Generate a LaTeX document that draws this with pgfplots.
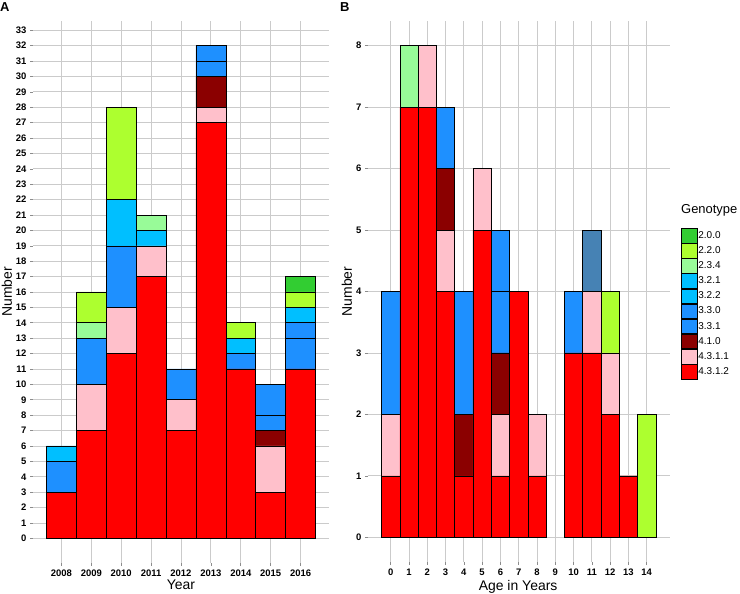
\documentclass[border=0pt]{standalone}
\usepackage{fontspec}
\setmainfont{Liberation Sans}
\usepackage{pgfplots}
\usepackage{pgfplotstable}
\pgfplotsset{compat=1.18}
\definecolor{c200}{HTML}{32CD32}
\definecolor{c220}{HTML}{ADFF2F}
\definecolor{c234}{HTML}{98FB98}
\definecolor{c32}{HTML}{00BFFF}
\definecolor{c33}{HTML}{1E90FF}
\definecolor{c410}{HTML}{8B0000}
\definecolor{c4311}{HTML}{FFC0CB}
\definecolor{c4312}{HTML}{FF0000}
\definecolor{steel}{HTML}{4682B4}
\definecolor{gridc}{HTML}{CBCBCB}

% columns: 4.3.1.2, 4.3.1.1, 4.1.0, 3.3.1, 3.3.0, 3.2.2, 3.2.1, 2.3.4, 2.2.0, 2.0.0
\pgfplotstableread{
yr   r  p  dr bA bB sA sB pg gy g
2008 3  0  0  2  0  1  0  0  0  0
2009 7  3  0  3  0  0  0  1  2  0
2010 12 3  0  4  0  3  0  0  6  0
2011 17 2  0  0  0  1  0  1  0  0
2012 7  2  0  2  0  0  0  0  0  0
2013 27 1  2  1  1  0  0  0  0  0
2014 11 0  0  1  0  1  0  0  1  0
2015 3  3  1  1  2  0  0  0  0  0
2016 11 0  0  2  1  1  0  0  1  1
}\tblA

\pgfplotstableread{
age r p dr bA bB sA sB pg gy g st
0   1 1 0  2  0  0  0  0  0  0 0
1   7 0 0  0  0  0  0  1  0  0 0
2   7 1 0  0  0  0  0  0  0  0 0
3   4 1 1  1  0  0  0  0  0  0 0
4   1 0 1  2  0  0  0  0  0  0 0
5   5 1 0  0  0  0  0  0  0  0 0
6   1 1 1  1  1  0  0  0  0  0 0
7   4 0 0  0  0  0  0  0  0  0 0
8   1 1 0  0  0  0  0  0  0  0 0
9   0 0 0  0  0  0  0  0  0  0 0
10  3 0 0  1  0  0  0  0  0  0 0
11  3 1 0  0  0  0  0  0  0  0 1
12  2 1 0  0  0  0  0  0  1  0 0
13  1 0 0  0  0  0  0  0  0  0 0
14  0 0 0  0  0  0  0  0  2  0 0
}\tblB

\pgfplotsset{
  panel/.style={
    scale only axis,
    anchor=south west,
    ybar stacked,
    bar width=1,
    axis line style={draw=none},
    grid=major,
    major grid style={draw=gridc, line width=0.9pt},
    tick pos=left,
    tick align=outside,
    major tick length=3bp,
    tick style={draw=black!45, line width=0.6pt},
    /pgf/number format/assume math mode=true,
    /pgf/number format/1000 sep={},
    ticklabel style={font=\fontsize{9.5}{10}\selectfont\bfseries},
    every axis plot/.append style={draw=black, line width=0.6pt},
  }
}

\begin{document}
\begin{tikzpicture}
\useasboundingbox (0,0) rectangle (740bp,594bp);

\begin{axis}[panel,
  at={(33bp,31bp)}, width=296bp, height=542bp,
  xmin=2007.05, xmax=2016.95, ymin=-1.6, ymax=33.6,
  xtick={2008,...,2016}, ytick={0,...,33},
  xlabel={Year}, ylabel={Number},
  every axis x label/.style={at={(rel axis cs:0.5,-0.0498)}, anchor=base, font=\fontsize{14}{16}\selectfont},
  every axis y label/.style={at={(rel axis cs:-0.088,0.5)}, anchor=center, rotate=90, font=\fontsize{14}{16}\selectfont},
]
\addplot[fill=c4312] table[x=yr,y=r]{\tblA};
\addplot[fill=c4311] table[x=yr,y=p]{\tblA};
\addplot[fill=c410] table[x=yr,y=dr]{\tblA};
\addplot[fill=c33] table[x=yr,y=bA]{\tblA};
\addplot[fill=c33] table[x=yr,y=bB]{\tblA};
\addplot[fill=c32] table[x=yr,y=sA]{\tblA};
\addplot[fill=c32] table[x=yr,y=sB]{\tblA};
\addplot[fill=c234] table[x=yr,y=pg]{\tblA};
\addplot[fill=c220] table[x=yr,y=gy]{\tblA};
\addplot[fill=c200] table[x=yr,y=g]{\tblA};
\end{axis}

\begin{axis}[panel,
  clip=false,
  at={(367.8bp,32bp)}, width=301.8bp, height=541bp,
  xmin=-1.25, xmax=15.25, ymin=-0.4, ymax=8.4,
  xtick={0,...,14}, ytick={0,...,8},
  xlabel={Age in Years}, ylabel={Number},
  every axis x label/.style={at={(rel axis cs:0.498,-0.0518)}, anchor=base, font=\fontsize{14}{16}\selectfont},
  every axis y label/.style={at={(rel axis cs:-0.069,0.5)}, anchor=center, rotate=90, font=\fontsize{14}{16}\selectfont},
  reverse legend,
  legend style={at={(rel axis cs:1.0378,0.6174)}, anchor=north west, draw=none, fill=none,
    inner sep=0pt, row sep=0pt, font=\fontsize{10}{11}\selectfont,
    nodes={inner sep=1.2bp, anchor=west}},
  legend cell align=left,
  legend image code/.code={\draw[#1,draw=black,line width=0.5pt] (0bp,-7.3bp) rectangle (15.5bp,7.3bp);},
]
\addplot[fill=c4312] table[x=age,y=r]{\tblB};
\addlegendentry{4.3.1.2}
\addplot[fill=c4311] table[x=age,y=p]{\tblB};
\addlegendentry{4.3.1.1}
\addplot[fill=c410] table[x=age,y=dr]{\tblB};
\addlegendentry{4.1.0}
\addplot[fill=c33] table[x=age,y=bA]{\tblB};
\addlegendentry{3.3.1}
\addplot[fill=c33] table[x=age,y=bB]{\tblB};
\addlegendentry{3.3.0}
\addplot[fill=c32] table[x=age,y=sA]{\tblB};
\addlegendentry{3.2.2}
\addplot[fill=c32] table[x=age,y=sB]{\tblB};
\addlegendentry{3.2.1}
\addplot[fill=c234] table[x=age,y=pg]{\tblB};
\addlegendentry{2.3.4}
\addplot[fill=c220] table[x=age,y=gy]{\tblB};
\addlegendentry{2.2.0}
\addplot[fill=c200] table[x=age,y=g]{\tblB};
\addlegendentry{2.0.0}
\addplot[fill=steel, forget plot] table[x=age,y=st]{\tblB};
\node[anchor=base west, inner sep=0pt, font=\fontsize{13}{15}\selectfont] at (rel axis cs:1.0378,0.645) {Genotype};
\end{axis}

\node[anchor=base west, inner sep=0pt, font=\fontsize{13}{15}\selectfont\bfseries] at (0bp,582bp) {A};
\node[anchor=base west, inner sep=0pt, font=\fontsize{13}{15}\selectfont\bfseries] at (340bp,582bp) {B};
\end{tikzpicture}
\end{document}
